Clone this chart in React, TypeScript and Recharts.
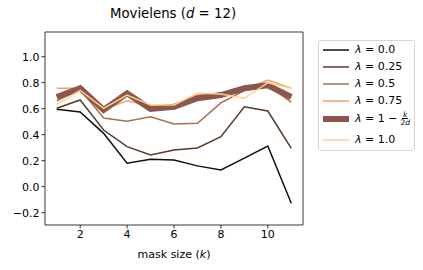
import React from 'react';
import { LineChart, Line, XAxis, YAxis, ReferenceLine } from 'recharts';

const maskSizes = [1, 2, 3, 4, 5, 6, 7, 8, 9, 10, 11];
const lambda00 = [0.595, 0.575, 0.41, 0.18, 0.21, 0.205, 0.16, 0.128, 0.22, 0.313, -0.128];
const lambda025 = [0.603, 0.667, 0.436, 0.308, 0.244, 0.282, 0.298, 0.385, 0.615, 0.582, 0.295];
const lambda05 = [0.66, 0.749, 0.528, 0.503, 0.538, 0.482, 0.487, 0.645, 0.74, 0.78, 0.65];
const lambda075 = [0.757, 0.757, 0.595, 0.661, 0.62, 0.62, 0.705, 0.71, 0.75, 0.82, 0.757];
const lambdaAdaptive = [0.69, 0.757, 0.59, 0.718, 0.598, 0.615, 0.68, 0.705, 0.757, 0.78, 0.69];
const lambda10 = [0.635, 0.74, 0.603, 0.705, 0.628, 0.628, 0.718, 0.713, 0.68, 0.8, 0.757];
const xTicks = [2, 4, 6, 8, 10];
const yTicks = [-0.2, 0, 0.2, 0.4, 0.6, 0.8, 1.0];
const xDomain = [0.5, 11.5];
const yDomain = [-0.295, 1.19];

const data = maskSizes.map((k, i) => ({
  k,
  l00: lambda00[i],
  l025: lambda025[i],
  l05: lambda05[i],
  l075: lambda075[i],
  lad: lambdaAdaptive[i],
  l10: lambda10[i],
}));

const FONT = "'DejaVu Sans', sans-serif";

type Series = { key: string; color: string; width: number; label: React.ReactNode };

const series: Series[] = [
  { key: 'l00', color: '#0f0f0f', width: 1.5, label: '0.0' },
  { key: 'l025', color: '#573a29', width: 1.5, label: '0.25' },
  { key: 'l05', color: '#ad6f48', width: 1.5, label: '0.5' },
  { key: 'l075', color: '#f5a06c', width: 1.5, label: '0.75' },
  {
    key: 'lad',
    color: '#8c564b',
    width: 6,
    label: (
      <span style={{ display: 'inline-flex', alignItems: 'center' }}>
        1 −
        <span style={{ display: 'inline-flex', flexDirection: 'column', alignItems: 'center', fontSize: 7.5, lineHeight: '7.5px', marginLeft: 3 }}>
          <i style={{ borderBottom: '0.8px solid #000', padding: '0 1px' }}>k</i>
          <span>2<i>d</i></span>
        </span>
      </span>
    ),
  },
  { key: 'l10', color: '#fdcf8a', width: 1.5, label: '1.0' },
];

const rowTops = [0, 17, 34, 51, 69, 90];

const fmt = (v: number) => (v < 0 ? '\u2212' + Math.abs(v).toFixed(1) : v.toFixed(1));

const tickStyle = { fill: '#000', fontSize: 11, fontFamily: FONT };
const frame = { stroke: '#222', strokeWidth: 0.9 };

export default function App() {
  return (
    <div style={{ position: 'absolute', left: 0, top: 0, width: 423, height: 270, background: '#fff', fontFamily: FONT }}>
      <div style={{ position: 'absolute', left: 0, width: 346, top: 6, textAlign: 'center', fontSize: 13.3, color: '#000', whiteSpace: 'nowrap' }}>
        Movielens (<i>d</i> = 12)
      </div>
      <LineChart width={423} height={270} data={data} margin={{ top: 32, right: 120, bottom: 0, left: 0 }}>
        <XAxis
          dataKey="k"
          type="number"
          domain={xDomain}
          ticks={xTicks}
          allowDataOverflow
          height={45}
          tick={tickStyle}
          tickSize={3.5}
          tickLine={{ stroke: '#000', strokeWidth: 0.8 }}
          axisLine={frame}
        />
        <YAxis
          type="number"
          domain={yDomain}
          ticks={yTicks}
          allowDataOverflow
          width={45}
          tick={tickStyle}
          tickSize={3.5}
          tickFormatter={fmt}
          tickLine={{ stroke: '#000', strokeWidth: 0.8 }}
          axisLine={frame}
        />
        <ReferenceLine y={yDomain[1]} stroke="#222" strokeWidth={0.9} ifOverflow="visible" />
        <ReferenceLine x={xDomain[1]} stroke="#222" strokeWidth={0.9} ifOverflow="visible" />
        {series.map((s) => (
          <Line
            key={s.key}
            dataKey={s.key}
            type="linear"
            stroke={s.color}
            strokeWidth={s.width}
            dot={false}
            activeDot={false}
            isAnimationActive={false}
          />
        ))}
      </LineChart>
      <div style={{ position: 'absolute', left: 0, width: 348, top: 248, textAlign: 'center', fontSize: 11, color: '#000', whiteSpace: 'nowrap' }}>
        mask size (<i>k</i>)
      </div>
      <div
        style={{
          position: 'absolute',
          left: 318,
          top: 40,
          width: 97,
          height: 111,
          border: '1px solid #d6d6d6',
          borderRadius: 3,
          background: 'rgba(255,255,255,0.8)',
          boxSizing: 'border-box',
          fontSize: 11,
          color: '#000',
        }}
      >
        {series.map((s, i) => (
          <div key={s.key} style={{ position: 'absolute', left: 3, top: rowTops[i], height: 17, display: 'flex', alignItems: 'center' }}>
            <svg width={28} height={10} style={{ display: 'block' }}>
              <line x1={1} x2={27} y1={5} y2={5} stroke={s.color} strokeWidth={s.width} />
            </svg>
            <span style={{ marginLeft: 5, display: 'inline-flex', alignItems: 'center', whiteSpace: 'nowrap' }}>
              <i>λ</i>&nbsp;=&nbsp;{s.label}
            </span>
          </div>
        ))}
      </div>
    </div>
  );
}
